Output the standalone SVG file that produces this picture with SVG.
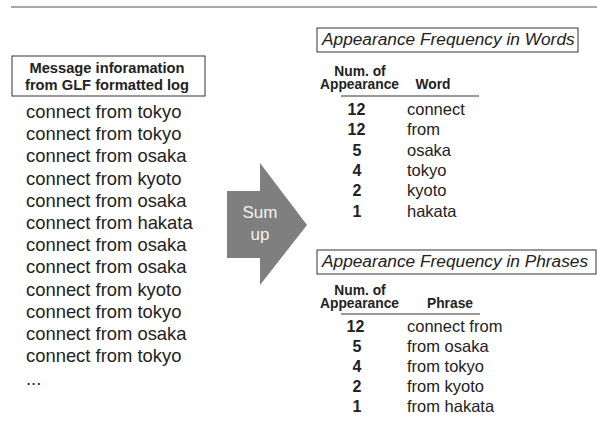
<svg xmlns="http://www.w3.org/2000/svg" width="597" height="421" viewBox="0 0 597 421">
  <style>
    .bg { fill: #ffffff; }
    .rule { stroke: #555555; stroke-width: 1.2; fill: none; }
    .frame { fill: #ffffff; stroke: #333333; stroke-width: 1; }
    .t { font-family: "Liberation Sans", Arial, Helvetica, sans-serif; fill: #222222; }
    .hdr { font-size: 14.7px; font-weight: bold; text-anchor: middle; }
    .log { font-size: 18.4px; }
    .ttl { font-size: 17.3px; font-style: italic; }
    .col { font-size: 13.8px; font-weight: bold; text-anchor: middle; }
    .num { font-size: 16px; font-weight: bold; text-anchor: middle; }
    .val { font-size: 16.5px; }
    .arrow { fill: #7f7f7f; }
    .arrowtxt { font-family: "Liberation Sans", Arial, Helvetica, sans-serif; fill: #f2f2f2; font-size: 17px; text-anchor: middle; }
  </style>

  <rect class="bg" x="0" y="0" width="597" height="421"/>

  <!-- top rule -->
  <line class="rule" x1="11" y1="7" x2="597" y2="7"/>

  <!-- source log -->
  <g id="source-log">
    <rect class="frame" x="12" y="56" width="193" height="40"/>
    <text class="t hdr" x="107" y="73">Message inforamation</text>
    <text class="t hdr" x="107" y="90">from GLF formatted log</text>
    <g class="t log">
      <text x="26" y="118">connect from tokyo</text>
      <text x="26" y="140">connect from tokyo</text>
      <text x="26" y="162">connect from osaka</text>
      <text x="26" y="185">connect from kyoto</text>
      <text x="26" y="207">connect from osaka</text>
      <text x="26" y="229">connect from hakata</text>
      <text x="26" y="251">connect from osaka</text>
      <text x="26" y="273">connect from osaka</text>
      <text x="26" y="296">connect from kyoto</text>
      <text x="26" y="318">connect from tokyo</text>
      <text x="26" y="340">connect from osaka</text>
      <text x="26" y="362">connect from tokyo</text>
      <text x="26" y="385">...</text>
    </g>
  </g>

  <!-- sum-up arrow -->
  <g id="sum-up">
    <polygon class="arrow" points="227,191 260,191 260,163 307,225 260,285 260,258 227,258"/>
    <text class="arrowtxt" x="260" y="218">Sum</text>
    <text class="arrowtxt" x="260" y="240">up</text>
  </g>

  <!-- word frequency table -->
  <g id="word-frequency">
    <rect class="frame" x="317" y="28" width="261" height="24"/>
    <text class="t ttl" x="322" y="45">Appearance Frequency in Words</text>
    <text class="t col" x="360" y="76">Num. of</text>
    <text class="t col" x="359.5" y="89">Appearance</text>
    <text class="t col" x="433" y="89">Word</text>
    <line x1="341" y1="96" x2="479" y2="96" stroke="#333333" stroke-width="1"/>
    <g class="t num">
      <text x="356.5" y="115">12</text>
      <text x="356.5" y="135">12</text>
      <text x="357" y="156">5</text>
      <text x="357" y="176">4</text>
      <text x="357" y="196">2</text>
      <text x="357" y="217">1</text>
    </g>
    <g class="t val">
      <text x="407" y="115">connect</text>
      <text x="407" y="135">from</text>
      <text x="407" y="156">osaka</text>
      <text x="407" y="176">tokyo</text>
      <text x="407" y="196">kyoto</text>
      <text x="407" y="217">hakata</text>
    </g>
  </g>

  <!-- phrase frequency table -->
  <g id="phrase-frequency">
    <rect class="frame" x="317" y="250" width="279" height="24"/>
    <text class="t ttl" x="322" y="267">Appearance Frequency in Phrases</text>
    <text class="t col" x="360" y="295">Num. of</text>
    <text class="t col" x="359.5" y="308">Appearance</text>
    <text class="t col" x="450" y="308">Phrase</text>
    <line x1="341" y1="314" x2="480" y2="314" stroke="#333333" stroke-width="1"/>
    <g class="t num">
      <text x="355.5" y="332">12</text>
      <text x="357" y="352">5</text>
      <text x="357" y="372">4</text>
      <text x="357" y="392">2</text>
      <text x="357" y="412">1</text>
    </g>
    <g class="t val">
      <text x="407" y="332">connect from</text>
      <text x="407" y="352">from osaka</text>
      <text x="407" y="372">from tokyo</text>
      <text x="407" y="392">from kyoto</text>
      <text x="407" y="412">from hakata</text>
    </g>
  </g>
</svg>
